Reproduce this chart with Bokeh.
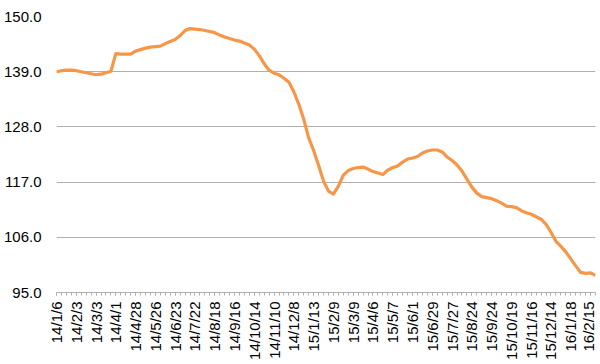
from bokeh.plotting import figure
from bokeh.models import FixedTicker, Range1d, NumeralTickFormatter, ColumnDataSource
from bokeh.embed import file_html
from bokeh.resources import INLINE
import math

tick_labels = ["14/1/6", "14/2/3", "14/3/3", "14/4/1", "14/4/28", "14/5/26", "14/6/23",
               "14/7/22", "14/8/18", "14/9/16", "14/10/14", "14/11/10", "14/12/8", "15/1/13",
               "15/2/9", "15/3/9", "15/4/6", "15/5/7", "15/6/1", "15/6/29", "15/7/27",
               "15/8/24", "15/9/24", "15/10/19", "15/11/16", "15/12/14", "16/1/18", "16/2/15"]

values = [139.0, 139.2, 139.3, 139.3, 139.2, 139.0, 138.8, 138.6, 138.4, 138.5,
          138.8, 139.1, 142.6, 142.5, 142.5, 142.5, 143.1, 143.4, 143.7, 143.9,
          144.0, 144.1, 144.6, 145.0, 145.4, 146.2, 147.2, 147.6, 147.5, 147.4,
          147.2, 147.0, 146.8, 146.3, 145.9, 145.6, 145.3, 145.1, 144.7, 144.3,
          143.5, 142.2, 140.6, 139.3, 138.7, 138.4, 137.7, 136.9, 135.0, 132.5,
          129.5, 125.8, 123.3, 120.3, 117.2, 115.2, 114.6, 116.2, 118.4, 119.3,
          119.7, 119.9, 120.0, 119.6, 119.1, 118.8, 118.5, 119.4, 119.9, 120.2,
          121.0, 121.6, 121.8, 122.1, 122.8, 123.2, 123.4, 123.4, 123.0, 122.0,
          121.3, 120.4, 119.2, 117.6, 116.0, 114.8, 114.1, 113.9, 113.7, 113.3,
          112.8, 112.2, 112.1, 111.9, 111.3, 110.9, 110.6, 110.1, 109.6, 108.6,
          107.0, 105.2, 104.2, 103.1, 101.7, 100.3, 99.0, 98.8, 98.9, 98.4]

y_ticks = [95, 106, 117, 128, 139, 150]
label_step = 4

idx = list(range(len(values)))
label_pos = idx[::label_step][:len(tick_labels)]

src = ColumnDataSource(dict(x=idx, y=values))

p = figure(width=596, height=362, output_backend="svg", toolbar_location=None,
           x_range=Range1d(0, len(values) - 1), y_range=Range1d(95, 150),
           min_border_left=56, min_border_right=1, min_border_top=16, min_border_bottom=68)
p.outline_line_color = None
p.background_fill_color = "white"

p.line("x", "y", source=src, line_color="#F79646", line_width=3.2, line_join="round")

font = "Liberation Sans"

xa = p.xaxis[0]
xa.ticker = FixedTicker(ticks=label_pos, minor_ticks=idx)
xa.major_label_overrides = {i: t for i, t in zip(label_pos, tick_labels)}
xa.major_label_orientation = math.pi / 2
xa.major_label_text_font = font
xa.major_label_text_font_size = "15px"
xa.major_label_text_color = "#000000"
xa.axis_line_color = "#B0B0B0"
xa.major_tick_line_color = "#B0B0B0"
xa.minor_tick_line_color = "#B0B0B0"
xa.major_tick_out = 3
xa.major_tick_in = 0
xa.minor_tick_out = 3
xa.minor_tick_in = 0
xa.major_label_standoff = 6

ya = p.yaxis[0]
ya.ticker = FixedTicker(ticks=y_ticks)
ya.formatter = NumeralTickFormatter(format="0.0")
ya.major_label_text_font = font
ya.major_label_text_font_size = "15px"
ya.major_label_text_color = "#000000"
ya.axis_line_color = None
ya.major_tick_line_color = None
ya.minor_tick_line_color = None
ya.major_tick_out = 0
ya.major_label_standoff = 15

p.xgrid.visible = False
p.ygrid.ticker = FixedTicker(ticks=y_ticks)
p.ygrid.grid_line_color = "#B0B0B0"
p.ygrid.grid_line_width = 1.2

open("out.html", "w").write(file_html(p, INLINE))
